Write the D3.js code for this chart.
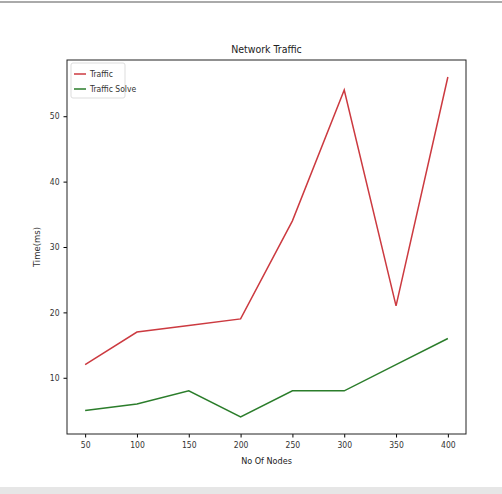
<!DOCTYPE html>
<html>
<head>
<meta charset="utf-8">
<script src="https://cdn.jsdelivr.net/npm/d3@7"></script>
<style>
  body { margin: 0; background: #fff; }
  svg { display: block; }
  .narrow { font-family: "DejaVu Sans Condensed", "DejaVu Sans", sans-serif; font-stretch: condensed; }
  .tick text { font-family: "DejaVu Sans Condensed", "DejaVu Sans", sans-serif; font-stretch: condensed; font-size: 8.5px; fill: #333; }
</style>
</head>
<body>
<div id="chart"></div>
<script>
const nodes = [50, 100, 150, 200, 250, 300, 350, 400];
const traffic = [12, 17, 18, 19, 34, 54, 21, 56];
const trafficSolve = [5, 6, 8, 4, 8, 8, 12, 16];
const xTicks = [50, 100, 150, 200, 250, 300, 350, 400];
const yTicks = [10, 20, 30, 40, 50];

const WIDTH = 502;
const HEIGHT = 494;
const MARGIN = { top: 60, right: 36, bottom: 60, left: 67 };

const svg = d3.select("#chart")
    .append("svg")
    .attr("width", WIDTH)
    .attr("height", HEIGHT);

// screenshot chrome: grey line on top, grey bar at bottom
svg.append("rect").attr("x", 0).attr("y", 1).attr("width", WIDTH).attr("height", 2).attr("fill", "#aaa");
svg.append("rect").attr("x", 0).attr("y", 487).attr("width", WIDTH).attr("height", 7).attr("fill", "#e6e6e6");

// matplotlib style 5% margins
const xPad = (d3.max(nodes) - d3.min(nodes)) * 0.05;
const allY = traffic.concat(trafficSolve);
const yPad = (d3.max(allY) - d3.min(allY)) * 0.05;

const x = d3.scaleLinear()
    .domain([d3.min(nodes) - xPad, d3.max(nodes) + xPad])
    .range([MARGIN.left, WIDTH - MARGIN.right]);

const y = d3.scaleLinear()
    .domain([d3.min(allY) - yPad, d3.max(allY) + yPad])
    .range([HEIGHT - MARGIN.bottom, MARGIN.top]);

svg.append("g")
    .attr("transform", `translate(0,${HEIGHT - MARGIN.bottom})`)
    .call(d3.axisBottom(x).tickValues(xTicks).tickSize(3.5).tickPadding(4))
    .call(g => g.select(".domain").remove());

svg.append("g")
    .attr("transform", `translate(${MARGIN.left},0)`)
    .call(d3.axisLeft(y).tickValues(yTicks).tickSize(3.5).tickPadding(4))
    .call(g => g.select(".domain").remove());

svg.append("rect")
    .attr("x", MARGIN.left)
    .attr("y", MARGIN.top)
    .attr("width", WIDTH - MARGIN.left - MARGIN.right)
    .attr("height", HEIGHT - MARGIN.top - MARGIN.bottom)
    .attr("fill", "none")
    .attr("stroke", "#222")
    .attr("stroke-width", 1);

const line = d3.line()
    .x((d, i) => x(nodes[i]))
    .y(d => y(d));

svg.append("path")
    .datum(traffic)
    .attr("d", line)
    .attr("fill", "none")
    .attr("stroke", "#cc3a40")
    .attr("stroke-width", 1.5);

svg.append("path")
    .datum(trafficSolve)
    .attr("d", line)
    .attr("fill", "none")
    .attr("stroke", "#2b7d2b")
    .attr("stroke-width", 1.5);

svg.append("text")
    .attr("class", "narrow")
    .attr("x", (MARGIN.left + WIDTH - MARGIN.right) / 2)
    .attr("y", 53)
    .attr("text-anchor", "middle")
    .style("font-size", "10.5px")
    .attr("fill", "#222")
    .text("Network Traffic");

svg.append("text")
    .attr("class", "narrow")
    .attr("x", (MARGIN.left + WIDTH - MARGIN.right) / 2)
    .attr("y", 464)
    .attr("text-anchor", "middle")
    .style("font-size", "9px")
    .attr("fill", "#222")
    .text("No Of Nodes");

svg.append("text")
    .attr("transform", `translate(40,${(MARGIN.top + HEIGHT - MARGIN.bottom) / 2}) rotate(-90)`)
    .attr("text-anchor", "middle")
    .style("font-family", "DejaVu Sans, sans-serif")
    .style("font-size", "8.5px")
    .attr("fill", "#333")
    .text("Time(ms)");

const legend = svg.append("g")
    .attr("transform", `translate(${MARGIN.left + 4},${MARGIN.top + 3})`);

legend.append("rect")
    .attr("width", 54)
    .attr("height", 35)
    .attr("rx", 2)
    .attr("fill", "#fff")
    .attr("stroke", "#ddd");

const legendItems = [
    { name: "Traffic", color: "#cc3a40" },
    { name: "Traffic Solve", color: "#2b7d2b" }
];

legendItems.forEach((item, i) => {
    legend.append("line")
        .attr("x1", 3)
        .attr("x2", 15)
        .attr("y1", 11 + i * 15)
        .attr("y2", 11 + i * 15)
        .attr("stroke", item.color)
        .attr("stroke-width", 1.5);
    legend.append("text")
        .attr("class", "narrow")
        .attr("x", 19)
        .attr("y", 14 + i * 15)
        .style("font-size", "8.5px")
        .attr("fill", "#333")
        .text(item.name);
});
</script>
</body>
</html>
